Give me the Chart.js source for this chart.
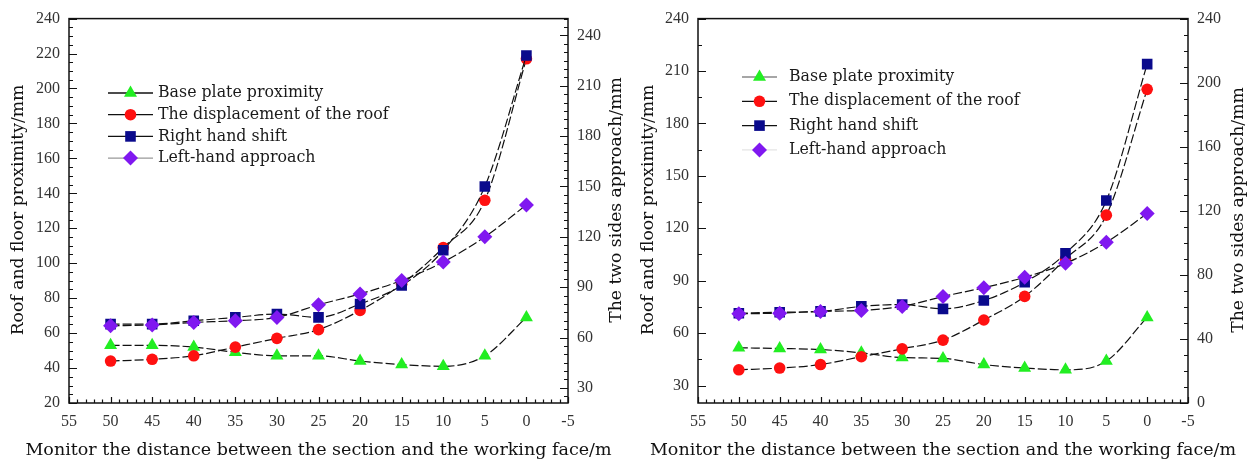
<!DOCTYPE html>
<html>
<head>
<meta charset="utf-8">
<script src="https://cdn.jsdelivr.net/npm/chart.js@4.4.1/dist/chart.umd.min.js"></script>
<style>
html,body{margin:0;padding:0;background:#fff;}
#wrap{display:flex;width:1254px;height:462px;}
.cell{position:relative;width:627px;height:462px;}
</style>
</head>
<body>
<div id="wrap">
  <div class="cell"><canvas id="c1" width="627" height="462"></canvas></div>
  <div class="cell"><canvas id="c2" width="627" height="462"></canvas></div>
</div>
<script>
// ---------- data ----------
const distances = [50, 45, 40, 35, 30, 25, 20, 15, 10, 5, 0];
const seriesNames = ['Base plate proximity', 'The displacement of the roof', 'Right hand shift', 'Left-hand approach'];

// left chart
const leftBase  = [53, 53, 52, 49, 47, 47, 44, 42, 41, 47, 69];
const leftRoof  = [44, 45, 47, 52, 57, 62, 73, 88, 109, 136, 217];
const leftRight = [68, 68, 70, 72, 74, 72, 80, 91, 112, 150, 228];
const leftLeft  = [67, 67.5, 69, 70, 72, 79.5, 86, 94, 105, 120, 139];

// right chart
const rightBase  = [51.6, 51.2, 50.6, 48.7, 46, 45.5, 42, 40, 39, 44, 69];
const rightRoof  = [39, 40, 42, 46.5, 51, 56, 67.5, 81, 102.5, 127.5, 199.5];
const rightRight = [56, 56.7, 57.2, 60.3, 61.5, 58.8, 64, 75.4, 93.4, 126.4, 211.6];
const rightLeft  = [55.7, 56.1, 57.2, 57.8, 60.3, 66.5, 72, 78.5, 87.2, 100.3, 118.3];

// tick labels
const xTicks = [55, 50, 45, 40, 35, 30, 25, 20, 15, 10, 5, 0, -5];
const leftYTicks  = [20, 40, 60, 80, 100, 120, 140, 160, 180, 200, 220, 240];
const leftY1Ticks = [30, 60, 90, 120, 150, 180, 210, 240];
const rightYTicks  = [30, 60, 90, 120, 150, 180, 210, 240];
const rightY1Ticks = [0, 40, 80, 120, 160, 200, 240];

const xTitle = 'Monitor the distance between the section and the working face/m';
const yTitle = 'Roof and floor proximity/mm';
const y1Title = 'The two sides approach/mm';

// ---------- styles ----------
const SERIF = '"Liberation Serif", "DejaVu Serif", serif';
const WIDE_SERIF = '"DejaVu Serif", "Liberation Serif", serif';
const markerStyles = [
  {color: '#22ee22', style: 'triangle', radius: 7.5},
  {color: '#ff1010', style: 'circle', radius: 5.8},
  {color: '#0a0a8c', style: 'rect', radius: 7.5},
  {color: '#8018f0', style: 'rectRot', radius: 7.5}
];

function makeDatasets(values) {
  const axes = ['y', 'y', 'y1', 'y1'];
  const orders = [3, 2, 1, 0];
  return values.map((vals, i) => ({
    label: seriesNames[i],
    data: distances.map((d, k) => ({x: d, y: vals[k]})),
    yAxisID: axes[i],
    order: orders[i],
    borderColor: '#111',
    borderWidth: 1.2,
    borderDash: [9, 3],
    backgroundColor: markerStyles[i].color,
    pointBackgroundColor: markerStyles[i].color,
    pointBorderColor: markerStyles[i].color,
    pointBorderWidth: 0,
    pointStyle: markerStyles[i].style,
    pointRadius: markerStyles[i].radius,
    cubicInterpolationMode: 'monotone',
    fill: false
  }));
}

function fixTicks(list) {
  return function(scale) { scale.ticks = list.map(v => ({value: v})); };
}

// plugin: frame, inward ticks, titles, legend
const decorPlugin = {
  id: 'decor',
  afterDraw(chart) {
    const o = chart.options.plugins.decor;
    const ctx = chart.ctx;
    const a = chart.chartArea;
    const sx = chart.scales.x, sy = chart.scales.y, sy1 = chart.scales.y1;
    ctx.save();
    ctx.strokeStyle = '#111';
    ctx.lineWidth = 1.5;
    ctx.strokeRect(a.left, a.top, a.right - a.left, a.bottom - a.top);

    ctx.lineWidth = 1.2;
    ctx.beginPath();
    const drawY = (scale, major, minorStep, side) => {
      const lo = scale.min, hi = scale.max;
      const start = Math.ceil(lo / minorStep) * minorStep;
      for (let v = start; v <= hi + 1e-9; v += minorStep) {
        const isMajor = major.some(m => Math.abs(m - v) < 1e-6);
        const len = isMajor ? 8 : 4;
        const p = Math.round(scale.getPixelForValue(v)) + 0.5;
        if (side === 'left') { ctx.moveTo(a.left, p); ctx.lineTo(a.left + len, p); }
        else { ctx.moveTo(a.right, p); ctx.lineTo(a.right - len, p); }
      }
    };
    drawY(sy, o.yMajor, o.yMinorStep, 'left');
    drawY(sy1, o.y1Major, o.y1MinorStep, 'right');
    for (let v = Math.ceil(sx.min); v <= sx.max; v += 1) {
      const isMajor = xTicks.includes(v);
      const len = isMajor ? 6 : 3.5;
      const p = Math.round(sx.getPixelForValue(v)) + 0.5;
      ctx.moveTo(p, a.bottom); ctx.lineTo(p, a.bottom - len);
    }
    ctx.stroke();

    // titles
    ctx.fillStyle = '#111';
    ctx.font = '17.2px ' + WIDE_SERIF;
    ctx.textAlign = 'center';
    ctx.textBaseline = 'middle';
    ctx.save(); ctx.translate(o.yTitleX, o.yTitleY); ctx.rotate(-Math.PI / 2); ctx.fillText(yTitle, 0, 0); ctx.restore();
    ctx.save(); ctx.translate(o.y1TitleX, o.y1TitleY); ctx.rotate(-Math.PI / 2); ctx.fillText(y1Title, 0, 0); ctx.restore();
    ctx.font = '17.5px ' + WIDE_SERIF;
    ctx.textBaseline = 'alphabetic';
    ctx.fillText(xTitle, (a.left + a.right) / 2, 455);

    // legend
    const L = o.legend;
    ctx.font = '15.8px ' + WIDE_SERIF;
    ctx.textAlign = 'left';
    ctx.textBaseline = 'middle';
    chart.data.datasets.forEach((ds, i) => {
      const y = L.y0 + i * L.dy;
      ctx.strokeStyle = L.lineColors[i];
      ctx.lineWidth = 1.3;
      ctx.setLineDash([]);
      ctx.beginPath(); ctx.moveTo(L.x0, y); ctx.lineTo(L.x1, y); ctx.stroke();
      ctx.fillStyle = ds.pointBackgroundColor;
      Chart.helpers.drawPoint(ctx, {pointStyle: ds.pointStyle, radius: ds.pointRadius, borderWidth: 0, rotation: 0}, (L.x0 + L.x1) / 2, y);
      ctx.fillStyle = '#1a1a1a';
      ctx.fillText(ds.label, L.tx, y);
    });
    ctx.restore();
  }
};

function makeChart(id, values, cfg) {
  const tickFont = {family: SERIF, size: 16};
  return new Chart(document.getElementById(id), {
    type: 'line',
    data: {datasets: makeDatasets(values)},
    plugins: [decorPlugin],
    options: {
      responsive: false,
      animation: false,
      devicePixelRatio: 1,
      layout: {padding: {top: 17, left: 0, right: 0, bottom: 0}},
      plugins: {
        legend: {display: false},
        tooltip: {enabled: false},
        decor: cfg.decor
      },
      scales: {
        x: {
          type: 'linear', reverse: true, min: -5, max: 55,
          afterBuildTicks: fixTicks(xTicks),
          afterFit: s => { s.height = 59; },
          grid: {display: false, drawTicks: false},
          border: {display: false},
          ticks: {padding: 9, color: '#333', font: tickFont, maxRotation: 0, autoSkip: false,
                  callback: v => String(v)}
        },
        y: {
          type: 'linear', position: 'left', min: cfg.yMin, max: cfg.yMax,
          afterBuildTicks: fixTicks(cfg.yTicks),
          afterFit: s => { s.width = cfg.yWidth; },
          grid: {display: false, drawTicks: false},
          border: {display: false},
          ticks: {padding: 9, color: '#333', font: tickFont, autoSkip: false, callback: v => String(v)}
        },
        y1: {
          type: 'linear', position: 'right', min: cfg.y1Min, max: cfg.y1Max,
          afterBuildTicks: fixTicks(cfg.y1Ticks),
          afterFit: s => { s.width = cfg.y1Width; },
          grid: {display: false, drawTicks: false},
          border: {display: false},
          ticks: {padding: 9, color: '#333', font: tickFont, autoSkip: false, callback: v => String(v)}
        }
      }
    }
  });
}

makeChart('c1', [leftBase, leftRoof, leftRight, leftLeft], {
  yMin: 20, yMax: 240, yTicks: leftYTicks, yWidth: 69,
  y1Min: 21, y1Max: 250, y1Ticks: leftY1Ticks, y1Width: 59,
  decor: {
    yMajor: leftYTicks, yMinorStep: 5, y1Major: leftY1Ticks, y1MinorStep: 5,
    yTitleX: 19, yTitleY: 210, y1TitleX: 617, y1TitleY: 200,
    legend: {x0: 108, x1: 153, tx: 158, y0: 93, dy: 21.7,
             lineColors: ['#111', '#111', '#111', '#999']}
  }
});

makeChart('c2', [rightBase, rightRoof, rightRight, rightLeft], {
  yMin: 20, yMax: 240, yTicks: rightYTicks, yWidth: 71,
  y1Min: 0, y1Max: 240, y1Ticks: rightY1Ticks, y1Width: 66,
  decor: {
    yMajor: rightYTicks, yMinorStep: 15, y1Major: rightY1Ticks, y1MinorStep: 10,
    yTitleX: 22, yTitleY: 210, y1TitleX: 612, y1TitleY: 210,
    legend: {x0: 115, x1: 150, tx: 162, y0: 77, dy: 24.3,
             lineColors: ['#888', '#111', '#111', '#e4e4e4']}
  }
});
</script>
</body>
</html>
